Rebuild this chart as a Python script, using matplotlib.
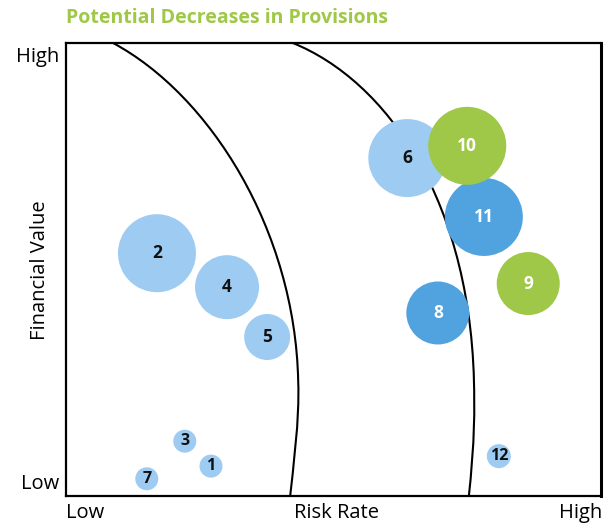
import matplotlib
matplotlib.use('Agg')
import matplotlib.pyplot as plt
from matplotlib.path import Path
from matplotlib.patches import PathPatch

plt.rcParams['font.family'] = ['Open Sans', 'DejaVu Sans']

# bubble data (risk rate 0-100, financial value 0-100, bubble diameter in px)
labels = ['1', '2', '3', '4', '5', '6', '7', '8', '9', '10', '11', '12']
risk = [27.1, 17.0, 22.2, 30.1, 37.6, 63.8, 15.1, 69.5, 86.4, 75.0, 78.1, 80.9]
value = [6.6, 53.6, 12.1, 46.1, 35.1, 74.6, 3.8, 40.4, 46.9, 77.3, 61.6, 8.8]
diam = [23, 78, 23, 64, 46, 78, 23, 63, 63, 78, 78, 24]
group = ['light', 'light', 'light', 'light', 'light', 'light', 'light',
         'mid', 'green', 'green', 'mid', 'light']

colors = {'light': '#9ecbf1', 'mid': '#50a3de', 'green': '#9fc848'}
text_colors = {'light': '#111111', 'mid': 'white', 'green': 'white'}

# boundary curves (cubic bezier control points, data units)
curve1 = [(8.8, 100), (26.9, 88.5), (42.8, 58.7), (43.4, 25.4),
          (43.7, 16.8), (42.4, 5.7), (41.9, 0)]
curve2 = [(42.4, 100), (59.6, 91.8), (76.4, 65.3), (76.3, 21.2),
          (76.4, 12.4), (75.7, 4.6), (75.3, 0)]

fig = plt.figure(figsize=(6.04, 5.26), dpi=100)
ax = fig.add_axes([66/604, 1-496/526, 535/604, 453/526])
ax.set_xlim(0, 100)
ax.set_ylim(0, 100)

for c in (curve1, curve2):
    codes = [Path.MOVETO] + [Path.CURVE4] * (len(c) - 1)
    ax.add_patch(PathPatch(Path(c, codes), fill=False, lw=1.5, color='black', zorder=1))

# draw in an order so overlaps look like the original
order = [0, 1, 2, 3, 4, 6, 11, 7, 8, 5, 10, 9]
for i in order:
    s = (diam[i] * 0.72) ** 2
    ax.scatter(risk[i], value[i], s=s, color=colors[group[i]], edgecolors='none', zorder=2)
    ax.text(risk[i], value[i], labels[i], ha='center', va='center',
            fontsize=12.5 if diam[i] > 30 else 11.5, fontweight='bold',
            color=text_colors[group[i]], zorder=3)

ax.set_xticks([])
ax.set_yticks([])
for sp in ax.spines.values():
    sp.set_linewidth(1.6)
ax.spines['right'].set_linewidth(2.2)

fig.text(66/604, 1-18/526, 'Potential Decreases in Provisions', color='#9fc848',
         fontsize=14, fontweight='bold', ha='left', va='center')
fig.text(59/604, 1-57/526, 'High', fontsize=14.5, ha='right', va='center')
fig.text(59/604, 1-484/526, 'Low', fontsize=14.5, ha='right', va='center')
fig.text(66/604, 1-513/526, 'Low', fontsize=14.5, ha='left', va='center')
fig.text(337/604, 1-513/526, 'Risk Rate', fontsize=14.5, ha='center', va='center')
fig.text(602/604, 1-513/526, 'High', fontsize=14.5, ha='right', va='center')
fig.text(40/604, 1-270/526, 'Financial Value', fontsize=14.5, rotation=90,
         ha='center', va='center')

fig.savefig('out.png', dpi=100)
